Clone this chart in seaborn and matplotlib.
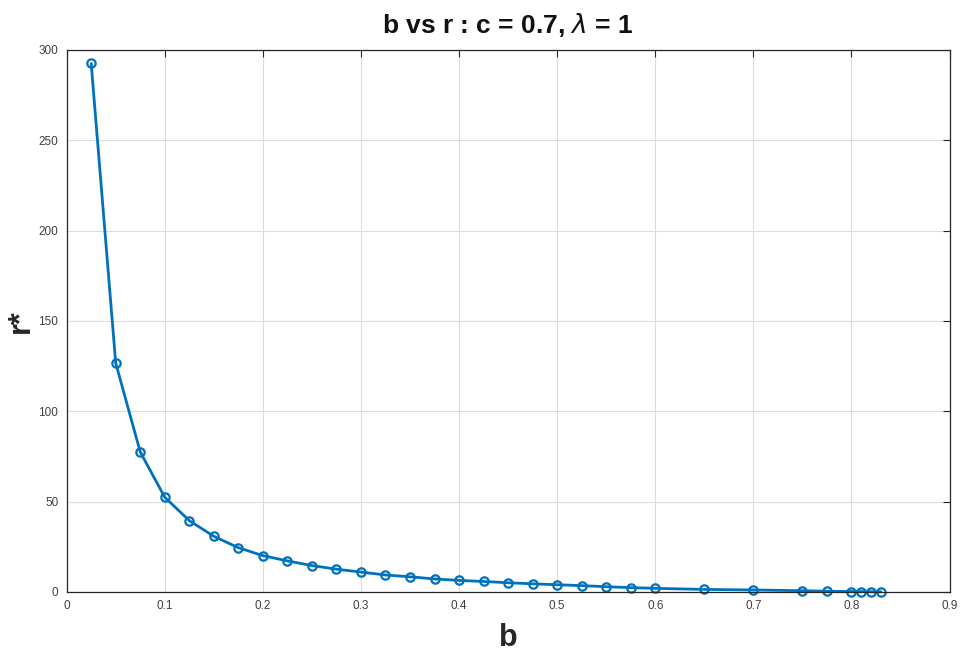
import numpy as np
import pandas as pd
import matplotlib
matplotlib.use("Agg")
import matplotlib.pyplot as plt
import seaborn as sns

# values
b_vals = [0.025, 0.05, 0.075, 0.1, 0.125, 0.15, 0.175, 0.2, 0.225, 0.25,
          0.275, 0.3, 0.325, 0.35, 0.375, 0.4, 0.425, 0.45, 0.475, 0.5,
          0.525, 0.55, 0.575, 0.6, 0.65, 0.7, 0.75, 0.775, 0.8, 0.81,
          0.82, 0.83]
r_vals = [292.5, 126.7, 77.5, 52.4, 39.5, 30.8, 24.5, 20.1, 17.2, 14.6,
          12.6, 11.0, 9.4, 8.4, 7.2, 6.4, 5.8, 5.1, 4.5, 4.0,
          3.5, 2.9, 2.4, 2.0, 1.4, 1.1, 0.7, 0.4, 0.25, 0.2,
          0.15, 0.1]
x_ticks = [0, 0.1, 0.2, 0.3, 0.4, 0.5, 0.6, 0.7, 0.8, 0.9]
y_ticks = [0, 50, 100, 150, 200, 250, 300]

df = pd.DataFrame({"b": b_vals, "r": r_vals})

sns.set_style("whitegrid", {"grid.color": "#dcdcdc", "axes.edgecolor": "#262626"})
plt.rcParams["font.family"] = ["Liberation Sans Narrow", "Liberation Sans", "DejaVu Sans"]

fig = plt.figure(figsize=(9.66, 6.57), dpi=100)
ax = fig.add_axes([0.069, 0.099, 0.914, 0.825])

sns.lineplot(data=df, x="b", y="r", ax=ax, color="#0072BD", linewidth=2,
             marker="o", markersize=6, markerfacecolor="none",
             markeredgecolor="#0072BD", markeredgewidth=1.6)
for ln in ax.lines:
    ln.set_clip_on(False)

ax.set_xlim(0, 0.9)
ax.set_ylim(0, 300)
ax.set_xticks(x_ticks)
ax.set_xticklabels([f"{t:g}" for t in x_ticks])
ax.set_yticks(y_ticks)
ax.tick_params(direction="in", length=5, width=0.8, colors="#262626",
               labelcolor="#404040", labelsize=8.5, top=True, right=True, pad=6)
for s in ax.spines.values():
    s.set_linewidth(0.9)
    s.set_color("#262626")

ax.set_xlabel("b", fontsize=22, fontweight="bold", color="#262626", labelpad=8)
ax.set_ylabel("r*", fontsize=22, fontweight="bold", color="#262626")
ax.yaxis.set_label_coords(-0.035, 0.5)
ax.set_title(r"b vs r : c = 0.7, $\lambda$ = 1", fontsize=19, fontweight="bold",
             color="#111111", pad=12)

fig.savefig("out.png", dpi=100)
